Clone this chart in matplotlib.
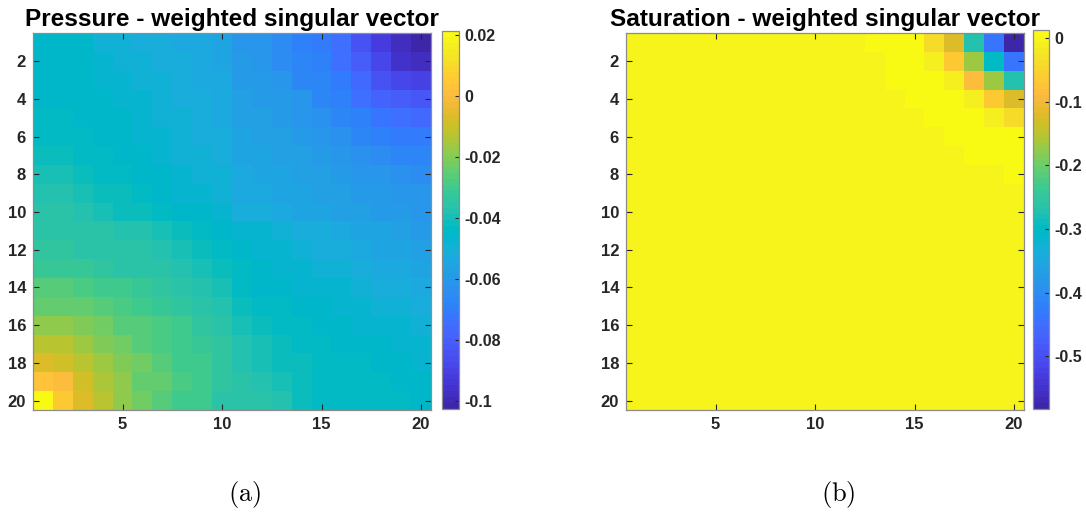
import numpy as np
import matplotlib
matplotlib.use("Agg")
import matplotlib.pyplot as plt
from matplotlib.colors import ListedColormap

plt.rcParams["font.family"] = ["Liberation Sans", "DejaVu Sans"]
plt.rcParams["font.weight"] = "bold"
plt.rcParams["mathtext.fontset"] = "cm"

# MATLAB parula, 64 entries
parula_rgb = [
    [0.2422, 0.1504, 0.6603], [0.2504, 0.1650, 0.7076], [0.2578, 0.1818, 0.7511], [0.2647, 0.1978, 0.7952],
    [0.2706, 0.2147, 0.8364], [0.2751, 0.2342, 0.8710], [0.2783, 0.2559, 0.8991], [0.2803, 0.2782, 0.9221],
    [0.2813, 0.3006, 0.9414], [0.2810, 0.3228, 0.9579], [0.2795, 0.3447, 0.9717], [0.2760, 0.3667, 0.9829],
    [0.2699, 0.3892, 0.9906], [0.2602, 0.4123, 0.9952], [0.2440, 0.4358, 0.9988], [0.2206, 0.4603, 0.9973],
    [0.1963, 0.4847, 0.9892], [0.1834, 0.5074, 0.9798], [0.1786, 0.5289, 0.9682], [0.1764, 0.5499, 0.9520],
    [0.1687, 0.5703, 0.9359], [0.1540, 0.5902, 0.9218], [0.1460, 0.6091, 0.9079], [0.1380, 0.6276, 0.8973],
    [0.1248, 0.6459, 0.8883], [0.1113, 0.6635, 0.8763], [0.0952, 0.6798, 0.8598], [0.0689, 0.6948, 0.8394],
    [0.0297, 0.7082, 0.8163], [0.0036, 0.7203, 0.7917], [0.0067, 0.7312, 0.7660], [0.0433, 0.7411, 0.7394],
    [0.0964, 0.7500, 0.7120], [0.1408, 0.7584, 0.6842], [0.1717, 0.7670, 0.6554], [0.1938, 0.7758, 0.6251],
    [0.2161, 0.7843, 0.5923], [0.2470, 0.7918, 0.5567], [0.2906, 0.7973, 0.5188], [0.3406, 0.8008, 0.4789],
    [0.3909, 0.8029, 0.4354], [0.4456, 0.8024, 0.3909], [0.5044, 0.7993, 0.3480], [0.5616, 0.7942, 0.3045],
    [0.6174, 0.7876, 0.2612], [0.6720, 0.7793, 0.2227], [0.7242, 0.7698, 0.1910], [0.7738, 0.7598, 0.1646],
    [0.8203, 0.7498, 0.1535], [0.8634, 0.7406, 0.1596], [0.9035, 0.7330, 0.1774], [0.9393, 0.7288, 0.2100],
    [0.9728, 0.7298, 0.2394], [0.9956, 0.7434, 0.2371], [0.9970, 0.7659, 0.2199], [0.9952, 0.7893, 0.2028],
    [0.9892, 0.8136, 0.1885], [0.9786, 0.8386, 0.1766], [0.9676, 0.8639, 0.1643], [0.9610, 0.8890, 0.1537],
    [0.9597, 0.9135, 0.1423], [0.9628, 0.9373, 0.1265], [0.9691, 0.9606, 0.1064], [0.9769, 0.9839, 0.0805],
]
parula = ListedColormap(parula_rgb, name="parula")

# pressure-weighted singular vector, 20 x 20 grid (row 1 at top)
pressure = [
    [-0.046, -0.046, -0.046, -0.049, -0.049, -0.051, -0.051, -0.053, -0.053, -0.056, -0.061, -0.062, -0.064, -0.068, -0.070, -0.075, -0.085, -0.092, -0.098, -0.1027],
    [-0.046, -0.046, -0.046, -0.047, -0.049, -0.050, -0.051, -0.052, -0.053, -0.055, -0.060, -0.061, -0.064, -0.066, -0.069, -0.074, -0.080, -0.088, -0.095, -0.098],
    [-0.045, -0.045, -0.046, -0.047, -0.048, -0.049, -0.050, -0.052, -0.053, -0.054, -0.059, -0.060, -0.062, -0.066, -0.067, -0.071, -0.077, -0.084, -0.089, -0.091],
    [-0.045, -0.045, -0.045, -0.046, -0.047, -0.048, -0.050, -0.051, -0.052, -0.054, -0.058, -0.059, -0.060, -0.062, -0.066, -0.069, -0.074, -0.078, -0.080, -0.082],
    [-0.044, -0.044, -0.045, -0.046, -0.046, -0.048, -0.049, -0.050, -0.052, -0.053, -0.057, -0.058, -0.059, -0.061, -0.063, -0.066, -0.068, -0.072, -0.075, -0.076],
    [-0.043, -0.043, -0.044, -0.045, -0.046, -0.047, -0.048, -0.050, -0.051, -0.052, -0.056, -0.057, -0.058, -0.059, -0.061, -0.063, -0.066, -0.068, -0.070, -0.070],
    [-0.041, -0.042, -0.043, -0.044, -0.045, -0.046, -0.047, -0.049, -0.050, -0.051, -0.055, -0.056, -0.057, -0.058, -0.059, -0.061, -0.063, -0.064, -0.066, -0.067],
    [-0.039, -0.040, -0.041, -0.043, -0.044, -0.045, -0.046, -0.048, -0.049, -0.050, -0.054, -0.055, -0.056, -0.057, -0.058, -0.060, -0.061, -0.062, -0.063, -0.064],
    [-0.037, -0.038, -0.040, -0.041, -0.042, -0.044, -0.045, -0.047, -0.048, -0.049, -0.053, -0.054, -0.055, -0.056, -0.057, -0.058, -0.059, -0.060, -0.061, -0.062],
    [-0.036, -0.036, -0.037, -0.040, -0.041, -0.042, -0.044, -0.045, -0.046, -0.047, -0.051, -0.052, -0.054, -0.055, -0.056, -0.057, -0.058, -0.059, -0.060, -0.061],
    [-0.035, -0.036, -0.036, -0.036, -0.037, -0.037, -0.040, -0.042, -0.044, -0.045, -0.047, -0.048, -0.050, -0.051, -0.052, -0.054, -0.055, -0.056, -0.058, -0.060],
    [-0.034, -0.034, -0.035, -0.035, -0.036, -0.036, -0.038, -0.040, -0.042, -0.043, -0.046, -0.047, -0.048, -0.049, -0.051, -0.052, -0.054, -0.055, -0.056, -0.057],
    [-0.032, -0.032, -0.032, -0.034, -0.035, -0.035, -0.036, -0.038, -0.040, -0.041, -0.044, -0.046, -0.047, -0.048, -0.049, -0.050, -0.052, -0.053, -0.054, -0.055],
    [-0.027, -0.027, -0.029, -0.031, -0.031, -0.032, -0.034, -0.035, -0.037, -0.039, -0.043, -0.045, -0.046, -0.047, -0.047, -0.048, -0.050, -0.051, -0.052, -0.053],
    [-0.024, -0.024, -0.025, -0.026, -0.028, -0.030, -0.032, -0.034, -0.035, -0.037, -0.041, -0.043, -0.044, -0.045, -0.046, -0.047, -0.048, -0.049, -0.050, -0.051],
    [-0.018, -0.018, -0.020, -0.023, -0.026, -0.027, -0.029, -0.031, -0.034, -0.036, -0.040, -0.041, -0.043, -0.044, -0.045, -0.046, -0.047, -0.047, -0.048, -0.049],
    [-0.012, -0.013, -0.016, -0.020, -0.023, -0.026, -0.028, -0.031, -0.032, -0.034, -0.038, -0.040, -0.042, -0.043, -0.044, -0.045, -0.045, -0.046, -0.047, -0.048],
    [-0.007, -0.008, -0.012, -0.017, -0.020, -0.022, -0.027, -0.030, -0.031, -0.033, -0.037, -0.039, -0.041, -0.042, -0.043, -0.044, -0.044, -0.045, -0.046, -0.047],
    [0.003, 0.000, -0.008, -0.015, -0.019, -0.024, -0.025, -0.028, -0.031, -0.034, -0.036, -0.037, -0.039, -0.042, -0.043, -0.043, -0.044, -0.044, -0.045, -0.046],
    [0.0213, 0.004, -0.006, -0.013, -0.019, -0.023, -0.026, -0.030, -0.031, -0.035, -0.035, -0.035, -0.037, -0.042, -0.043, -0.043, -0.043, -0.044, -0.044, -0.045],
]

# saturation-weighted singular vector, 20 x 20 grid (row 1 at top)
saturation = [
    [0.0, 0.0, 0.0, 0.0, 0.0, 0.0, 0.0, 0.0, 0.0, 0.0, 0.0, 0.0, 0.011, 0.013, 0.011, -0.035, -0.124, -0.267, -0.440, -0.583],
    [0.0, 0.0, 0.0, 0.0, 0.0, 0.0, 0.0, 0.0, 0.0, 0.0, 0.0, 0.0, 0.0, 0.011, 0.011, -0.008, -0.070, -0.166, -0.300, -0.440],
    [0.0, 0.0, 0.0, 0.0, 0.0, 0.0, 0.0, 0.0, 0.0, 0.0, 0.0, 0.0, 0.0, 0.011, 0.011, 0.011, -0.012, -0.082, -0.166, -0.267],
    [0.0, 0.0, 0.0, 0.0, 0.0, 0.0, 0.0, 0.0, 0.0, 0.0, 0.0, 0.0, 0.0, 0.0, 0.011, 0.011, 0.011, -0.012, -0.065, -0.124],
    [0.0, 0.0, 0.0, 0.0, 0.0, 0.0, 0.0, 0.0, 0.0, 0.0, 0.0, 0.0, 0.0, 0.0, 0.0, 0.011, 0.011, 0.011, -0.010, -0.035],
    [0.0, 0.0, 0.0, 0.0, 0.0, 0.0, 0.0, 0.0, 0.0, 0.0, 0.0, 0.0, 0.0, 0.0, 0.0, 0.0, 0.011, 0.011, 0.011, 0.011],
    [0.0, 0.0, 0.0, 0.0, 0.0, 0.0, 0.0, 0.0, 0.0, 0.0, 0.0, 0.0, 0.0, 0.0, 0.0, 0.0, 0.0, 0.011, 0.011, 0.011],
    [0.0, 0.0, 0.0, 0.0, 0.0, 0.0, 0.0, 0.0, 0.0, 0.0, 0.0, 0.0, 0.0, 0.0, 0.0, 0.0, 0.0, 0.0, 0.0, 0.011],
    [0.0, 0.0, 0.0, 0.0, 0.0, 0.0, 0.0, 0.0, 0.0, 0.0, 0.0, 0.0, 0.0, 0.0, 0.0, 0.0, 0.0, 0.0, 0.0, 0.0],
    [0.0, 0.0, 0.0, 0.0, 0.0, 0.0, 0.0, 0.0, 0.0, 0.0, 0.0, 0.0, 0.0, 0.0, 0.0, 0.0, 0.0, 0.0, 0.0, 0.0],
    [0.0, 0.0, 0.0, 0.0, 0.0, 0.0, 0.0, 0.0, 0.0, 0.0, 0.0, 0.0, 0.0, 0.0, 0.0, 0.0, 0.0, 0.0, 0.0, 0.0],
    [0.0, 0.0, 0.0, 0.0, 0.0, 0.0, 0.0, 0.0, 0.0, 0.0, 0.0, 0.0, 0.0, 0.0, 0.0, 0.0, 0.0, 0.0, 0.0, 0.0],
    [0.0, 0.0, 0.0, 0.0, 0.0, 0.0, 0.0, 0.0, 0.0, 0.0, 0.0, 0.0, 0.0, 0.0, 0.0, 0.0, 0.0, 0.0, 0.0, 0.0],
    [0.0, 0.0, 0.0, 0.0, 0.0, 0.0, 0.0, 0.0, 0.0, 0.0, 0.0, 0.0, 0.0, 0.0, 0.0, 0.0, 0.0, 0.0, 0.0, 0.0],
    [0.0, 0.0, 0.0, 0.0, 0.0, 0.0, 0.0, 0.0, 0.0, 0.0, 0.0, 0.0, 0.0, 0.0, 0.0, 0.0, 0.0, 0.0, 0.0, 0.0],
    [0.0, 0.0, 0.0, 0.0, 0.0, 0.0, 0.0, 0.0, 0.0, 0.0, 0.0, 0.0, 0.0, 0.0, 0.0, 0.0, 0.0, 0.0, 0.0, 0.0],
    [0.0, 0.0, 0.0, 0.0, 0.0, 0.0, 0.0, 0.0, 0.0, 0.0, 0.0, 0.0, 0.0, 0.0, 0.0, 0.0, 0.0, 0.0, 0.0, 0.0],
    [0.0, 0.0, 0.0, 0.0, 0.0, 0.0, 0.0, 0.0, 0.0, 0.0, 0.0, 0.0, 0.0, 0.0, 0.0, 0.0, 0.0, 0.0, 0.0, 0.0],
    [0.0, 0.0, 0.0, 0.0, 0.0, 0.0, 0.0, 0.0, 0.0, 0.0, 0.0, 0.0, 0.0, 0.0, 0.0, 0.0, 0.0, 0.0, 0.0, 0.0],
    [0.0, 0.0, 0.0, 0.0, 0.0, 0.0, 0.0, 0.0, 0.0, 0.0, 0.0, 0.0, 0.0, 0.0, 0.0, 0.0, 0.0, 0.0, 0.0, 0.0],
]

titles = ["Pressure - weighted singular vector", "Saturation - weighted singular vector"]
panel_labels = ["(a)", "(b)"]
xticks = [5, 10, 15, 20]
yticks = [2, 4, 6, 8, 10, 12, 14, 16, 18, 20]
cbar_ticks = [[-0.1, -0.08, -0.06, -0.04, -0.02, 0, 0.02],
              [-0.5, -0.4, -0.3, -0.2, -0.1, 0]]
cbar_labels = [["-0.1", "-0.08", "-0.06", "-0.04", "-0.02", "0", "0.02"],
               ["-0.5", "-0.4", "-0.3", "-0.2", "-0.1", "0"]]

W, H = 1086, 514
fig = plt.figure(figsize=(W / 100, H / 100), dpi=100)
fig.patch.set_facecolor("white")

# pixel boxes: (left, top, right, bottom)
ax_boxes = [(33, 33, 431, 410), (626, 33, 1024, 410)]
cb_boxes = [(442, 31, 459, 409), (1033, 30, 1049, 409)]
label_x = [245, 838]


def px_rect(box):
    l, t, r, b = box
    return [l / W, 1 - b / H, (r - l) / W, (b - t) / H]


edge = "#8c8c8c"
tick_c = "#262626"

for k, data in enumerate([pressure, saturation]):
    grid = np.array(data)
    ax = fig.add_axes(px_rect(ax_boxes[k]))
    im = ax.imshow(grid, cmap=parula, aspect="auto", interpolation="nearest",
                   extent=(0.5, 20.5, 20.5, 0.5))
    ax.set_xlim(0.5, 20.5)
    ax.set_ylim(20.5, 0.5)
    ax.set_xticks(xticks)
    ax.set_yticks(yticks)
    ax.tick_params(direction="in", length=4, width=0.8, colors=tick_c,
                   top=True, right=True, labelsize=12, pad=5)
    for lab in ax.get_xticklabels() + ax.get_yticklabels():
        lab.set_fontweight("bold")
    for s in ax.spines.values():
        s.set_color(edge)
        s.set_linewidth(0.9)
    ax.set_title(titles[k], fontsize=17.6, fontweight="bold", pad=5)

    cax = fig.add_axes(px_rect(cb_boxes[k]))
    cb = fig.colorbar(im, cax=cax)
    cb.set_ticks(cbar_ticks[k])
    cb.set_ticklabels(cbar_labels[k])
    cb.outline.set_edgecolor(edge)
    cb.outline.set_linewidth(0.9)
    cax.tick_params(direction="in", length=3, width=0.8, colors=tick_c,
                    labelsize=11.5, pad=4)
    for lab in cax.get_yticklabels():
        lab.set_fontweight("bold")

    fig.text(label_x[k] / W, 1 - 494 / H, r"$\mathrm{" + panel_labels[k] + "}$",
             ha="center", va="center", fontsize=19, color="black")

fig.savefig("out.png", dpi=100, facecolor="white")
